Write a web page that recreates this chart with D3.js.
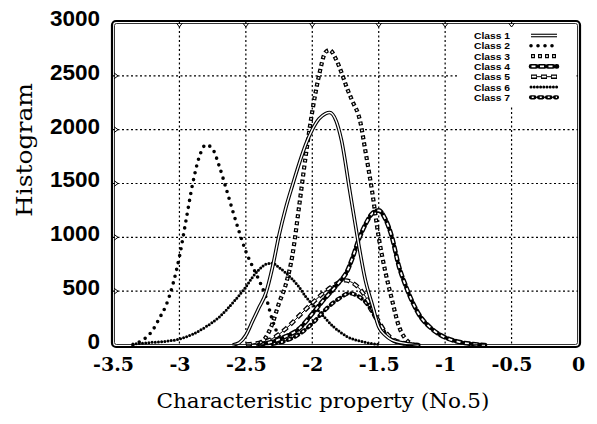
<!DOCTYPE html>
<html><head><meta charset="utf-8">
<script src="https://cdn.jsdelivr.net/npm/d3@7"></script>
<style>body{margin:0;background:#fff}svg{display:block}</style>
</head><body><svg id="c" width="597" height="424"></svg>
<script>
const classNames = ["Class 1","Class 2","Class 3","Class 4","Class 5","Class 6","Class 7"];
const xTicks = [-3.5,-3,-2.5,-2,-1.5,-1,-0.5,0];
const xTickLabels = ["-3.5","-3","-2.5","-2","-1.5","-1","-0.5","0"];
const yTicks = [0,500,1000,1500,2000,2500,3000];
const yTickLabels = ["0","500","1000","1500","2000","2500","3000"];

const c1x = [-2.6,-2.55,-2.5,-2.45,-2.4,-2.35,-2.3,-2.25,-2.2,-2.15,-2.1,-2.05,-2.0,-1.95,-1.9,-1.87,-1.82,-1.78,-1.72,-1.66,-1.6,-1.55,-1.5,-1.45,-1.4,-1.3,-1.2];
const c1y = [0,20,90,220,350,480,720,1020,1270,1480,1680,1860,2000,2100,2150,2160,2080,1900,1450,1000,600,380,170,90,45,15,0];
const c2x = [-3.35,-3.3,-3.25,-3.2,-3.15,-3.1,-3.05,-3.0,-2.95,-2.9,-2.85,-2.8,-2.75,-2.7,-2.65,-2.6,-2.55,-2.5,-2.45,-2.4,-2.35,-2.3,-2.25,-2.2];
const c2y = [0,30,70,140,250,370,560,820,1160,1500,1750,1860,1820,1660,1460,1250,1050,870,730,600,450,230,80,10];
const c3x = [-2.4,-2.35,-2.3,-2.25,-2.2,-2.15,-2.1,-2.05,-2.0,-1.95,-1.9,-1.87,-1.82,-1.78,-1.74,-1.7,-1.64,-1.6,-1.55,-1.5,-1.45,-1.4,-1.35,-1.3,-1.25];
const c3y = [15,70,200,390,560,830,1280,1750,2170,2500,2720,2740,2650,2530,2390,2270,2080,1800,1430,1000,680,420,180,60,10];
const c4x = [-2.4,-2.3,-2.2,-2.1,-2.0,-1.9,-1.84,-1.8,-1.74,-1.7,-1.65,-1.6,-1.55,-1.5,-1.45,-1.4,-1.35,-1.3,-1.25,-1.2,-1.1,-1.0,-0.9,-0.8,-0.7];
const c4y = [5,30,80,150,290,440,520,580,680,800,980,1120,1220,1250,1170,1000,740,560,410,290,150,70,30,10,0];
const c5x = [-2.5,-2.4,-2.3,-2.2,-2.1,-2.0,-1.9,-1.8,-1.75,-1.7,-1.65,-1.6,-1.55,-1.5,-1.45,-1.4,-1.3,-1.2];
const c5y = [5,20,60,150,270,390,500,580,600,580,530,450,340,220,120,60,15,0];
const c6x = [-3.35,-3.2,-3.1,-3.0,-2.9,-2.8,-2.7,-2.6,-2.5,-2.45,-2.4,-2.35,-2.3,-2.25,-2.2,-2.15,-2.1,-2.05,-2.0,-1.94,-1.84,-1.74,-1.6,-1.5];
const c6y = [10,25,35,55,100,170,260,390,540,630,700,750,760,720,670,610,540,450,380,300,170,80,25,5];
const c7x = [-2.3,-2.2,-2.1,-2.0,-1.9,-1.8,-1.72,-1.65,-1.6,-1.55,-1.5,-1.45,-1.4,-1.3,-1.2];
const c7y = [10,40,100,200,330,430,480,450,400,310,200,110,50,10,0];

const seriesX = [c1x,c2x,c3x,c4x,c5x,c6x,c7x];
const seriesY = [c1y,c2y,c3y,c4y,c5y,c6y,c7y];

const svg = d3.select("#c");
const L=113, R=578, T=22, B=345;
const x = d3.scaleLinear().domain([-3.5,0]).range([L,R]);
const y = d3.scaleLinear().domain([0,3000]).range([B,T]);

// grid
const grid = svg.append("g").attr("stroke","#000").attr("stroke-width",1.2).attr("stroke-dasharray","2,2.5");
xTicks.slice(1,-1).forEach(t=>grid.append("line").attr("x1",x(t)).attr("x2",x(t)).attr("y1",T).attr("y2",B));
yTicks.slice(1,-1).forEach(t=>grid.append("line").attr("x1",L).attr("x2",R).attr("y1",y(t)).attr("y2",y(t)));

// legend background
svg.append("rect").attr("x",458).attr("y",26).attr("width",118).attr("height",80).attr("fill","#fff");

const styles = [
  g=>{g.append("path").attr("stroke","#000").attr("stroke-width",3.6);
      g.append("path").attr("stroke","#fff").attr("stroke-width",1.4);},
  g=>{g.append("path").attr("stroke","#000").attr("stroke-width",3.6).attr("stroke-linecap","round").attr("stroke-dasharray","0,7");},
  g=>{g.append("path").attr("stroke","#000").attr("stroke-width",4.2).attr("stroke-dasharray","4,3");
      g.append("path").attr("stroke","#fff").attr("stroke-width",1.6).attr("stroke-dasharray","1.6,5.4").attr("stroke-dashoffset",-1.2);},
  g=>{g.append("path").attr("stroke","#000").attr("stroke-width",4.6).attr("stroke-linecap","round").attr("stroke-dasharray","5,3.5");
      g.append("path").attr("stroke","#fff").attr("stroke-width",1.8).attr("stroke-dasharray","4,4.5").attr("stroke-dashoffset",-0.5);},
  g=>{g.append("path").attr("stroke","#000").attr("stroke-width",1);
      g.append("path").attr("stroke","#000").attr("stroke-width",4.4).attr("stroke-dasharray","6,4");
      g.append("path").attr("stroke","#fff").attr("stroke-width",1.8).attr("stroke-dasharray","4.4,5.6").attr("stroke-dashoffset",-0.8);},
  g=>{g.append("path").attr("stroke","#000").attr("stroke-width",3).attr("stroke-linecap","round").attr("stroke-dasharray","0,3.2");},
  g=>{g.append("path").attr("stroke","#000").attr("stroke-width",1);
      g.append("path").attr("stroke","#000").attr("stroke-width",4.2).attr("stroke-linecap","round").attr("stroke-dasharray","3.5,4.5");
      g.append("path").attr("stroke","#fff").attr("stroke-width",1.6).attr("stroke-dasharray","2,6").attr("stroke-dashoffset",-0.75);}
];

const line = d3.line().x(d=>x(d[0])).y(d=>y(d[1])).curve(d3.curveMonotoneX);
const order = [5,1,6,4,3,2,0];
order.forEach(i=>{
  const pts = seriesX[i].map((v,k)=>[v,seriesY[i][k]]);
  const g = svg.append("g").attr("fill","none");
  styles[i](g);
  g.selectAll("path").attr("d",line(pts));
});

// legend
classNames.forEach((n,i)=>{
  const yy = 39 + i*10.3;
  svg.append("text").attr("x",474).attr("y",yy).text(n)
     .attr("font-family","Liberation Sans, Arial, sans-serif").attr("font-weight","bold")
     .attr("font-size",9.5).attr("textLength",36).attr("lengthAdjust","spacingAndGlyphs");
  const g = svg.append("g").attr("fill","none");
  styles[i](g);
  g.selectAll("path").attr("d",`M531,${yy-3.5}L557,${yy-3.5}`);
});

// frame
svg.append("rect").attr("x",L-1).attr("y",T-1).attr("width",R-L+3).attr("height",B-T+3).attr("rx",4)
  .attr("fill","none").attr("stroke","#000").attr("stroke-width",2.2);
svg.append("rect").attr("x",L+1.5).attr("y",T+1.5).attr("width",R-L-2).attr("height",B-T-2).attr("rx",2)
  .attr("fill","none").attr("stroke","#000").attr("stroke-width",0.8);
// small ticks
xTicks.slice(1,-1).forEach(t=>{
  svg.append("path").attr("d",`M${x(t)-3},${T+1}L${x(t)},${T+5}L${x(t)+3},${T+1}`).attr("fill","none").attr("stroke","#000");
});
yTicks.slice(1,-1).forEach(t=>{
  svg.append("path").attr("d",`M${L+1},${y(t)-3}L${L+5},${y(t)}L${L+1},${y(t)+3}`).attr("fill","none").attr("stroke","#000");
});

// axes labels
const xa = svg.append("g").attr("transform",`translate(0,${B+6})`).call(d3.axisBottom(x).tickValues(xTicks).tickFormat((d,i)=>xTickLabels[i]).tickSize(0));
xa.select(".domain").remove();
xa.selectAll("text").attr("font-family","DejaVu Serif, serif").attr("font-weight","bold").attr("font-size",19).attr("fill","#000").attr("dy","0.9em");
const ya = svg.append("g").attr("transform",`translate(${L-13},0)`).call(d3.axisLeft(y).tickValues(yTicks).tickFormat((d,i)=>yTickLabels[i]).tickSize(0));
ya.select(".domain").remove();
ya.selectAll("text").attr("font-family","Liberation Sans, Arial, sans-serif").attr("font-weight","bold").attr("font-size",22.5).attr("fill","#000").attr("dy","0.15em").attr("x",0);

svg.append("text").attr("x",323).attr("y",408).attr("text-anchor","middle")
  .attr("font-family","DejaVu Serif, serif").attr("font-size",20).attr("textLength",333).attr("lengthAdjust","spacingAndGlyphs")
  .text("Characteristic property (No.5)");
svg.append("text").attr("transform","translate(32,150) rotate(-90)").attr("text-anchor","middle")
  .attr("font-family","DejaVu Serif, serif").attr("font-size",22).attr("textLength",134).attr("lengthAdjust","spacingAndGlyphs")
  .text("Histogram");
</script></body></html>
